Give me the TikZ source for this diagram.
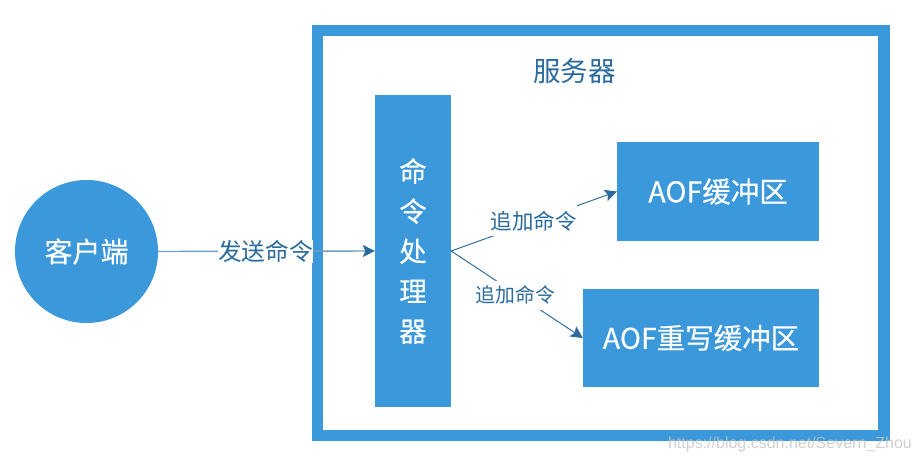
\documentclass[tikz,border=0pt]{standalone}
\usepackage{fontspec}
\setmainfont{Noto Sans CJK SC}
\newfontfamily\boxfont[FakeBold=0.35]{Noto Sans CJK SC}
\newfontfamily\wmfont{Liberation Sans}
\usetikzlibrary{arrows.meta}
\definecolor{boxblue}{HTML}{3A98DB}
\definecolor{inkblue}{HTML}{2A6A9C}
\definecolor{softline}{HTML}{6F9FC4}
\tikzset{
  x=1pt,y=-1pt,
  bluebox/.style={fill=boxblue,draw=none,inner sep=0pt,text=white,font=\boxfont\fontsize{28.5}{28.5}\selectfont},
  framebox/.style={draw=boxblue,line width=11.2pt,fill=white},
  conn/.style={draw=inkblue,line width=0.95pt,-{Stealth[length=12pt,width=12pt,inset=2.5pt,color=inkblue]}},
  connlabel/.style={fill=white,inner sep=0pt,text=inkblue},
}
\begin{document}
\begin{tikzpicture}
\useasboundingbox (0,0) rectangle (920,462);
\fill[white] (0,0) rectangle (920,462);
\draw[framebox] (317.8,30.6) rectangle (884,435.6);
\node[text=inkblue,font=\fontsize{27.5}{27.5}\selectfont] (server) at (574.5,71) {服务器};
\node[bluebox,circle,minimum size=143pt,font=\boxfont\fontsize{28}{28}\selectfont] (client) at (86.5,251.5) {客户端};
\node[bluebox,minimum width=76pt,minimum height=312pt,align=center,font=\boxfont\fontsize{27.5}{40}\selectfont] (cmd) at (413,251) {命\\令\\处\\理\\器};
\node[bluebox,minimum width=202pt,minimum height=99pt] (aof) at (718,191.5) {AOF缓冲区};
\node[bluebox,minimum width=236pt,minimum height=98pt] (aofr) at (701,338) {AOF重写缓冲区};
\draw[conn,draw=softline,line width=1.4pt] (client.east) -- (cmd.west);
\draw[conn] (cmd.east) -- (aof.west);
\draw[conn] (cmd.east) -- (aofr.west);
\node[connlabel,font=\fontsize{23.7}{23.7}\selectfont] (lsend) at (265.5,251.5) {发送命令};
\node[connlabel,minimum height=31pt,font=\fontsize{21.5}{21.5}\selectfont] (ladd) at (533.5,221) {追加命令};
\node[connlabel,minimum height=29pt,font=\fontsize{19.8}{19.8}\selectfont] (laddr) at (515.5,295) {追加命令};
\node[text=gray!45,text opacity=0.8,inner sep=0pt,font=\wmfont\fontsize{16}{16}\selectfont,anchor=east] (wm) at (912,444) {https://blog.csdn.net/Severn\_Zhou};
\end{tikzpicture}
\end{document}
